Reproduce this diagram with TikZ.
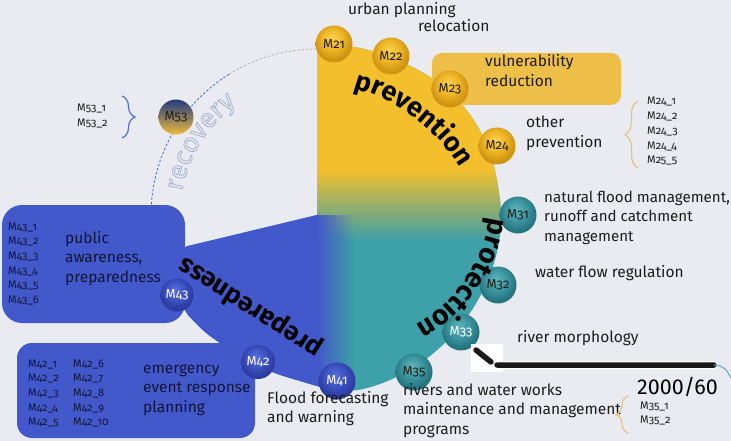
\documentclass[tikz,border=0pt]{standalone}
\usepackage{fontspec}
\setmainfont{Fira Sans}[Numbers=OldStyle]
\newfontfamily\linfont{Fira Sans}[Numbers=Lining]
\usetikzlibrary{decorations.text,decorations.pathreplacing,fadings}

\definecolor{bgc}{RGB}{233,235,240}
\definecolor{yel}{RGB}{244,191,44}
\definecolor{tea}{RGB}{62,160,168}
\definecolor{blu}{RGB}{67,88,203}
\definecolor{vbox}{RGB}{237,190,72}
\definecolor{bracetan}{RGB}{226,196,130}
\definecolor{braceblu}{RGB}{80,110,205}
\definecolor{txt}{RGB}{28,28,28}
\definecolor{navytxt}{RGB}{18,22,55}
\definecolor{balltxt}{RGB}{35,30,20}
\definecolor{recout}{RGB}{160,172,202}
\definecolor{recgray}{RGB}{185,180,168}
\definecolor{recblue}{RGB}{80,108,200}
\definecolor{yelL}{RGB}{250,208,80}
\definecolor{yelM}{RGB}{238,182,38}
\definecolor{yelD}{RGB}{208,148,18}
\definecolor{teaL}{RGB}{95,180,188}
\definecolor{teaM}{RGB}{60,150,160}
\definecolor{teaD}{RGB}{38,118,130}
\definecolor{bluL}{RGB}{88,110,218}
\definecolor{bluM}{RGB}{62,82,196}
\definecolor{bluD}{RGB}{44,60,160}
\definecolor{mtop}{RGB}{35,58,130}
\definecolor{mbot}{RGB}{236,186,60}

\pgfdeclareradialshading{ballY}{\pgfpoint{-3bp}{9bp}}{color(0bp)=(yelL); color(14bp)=(yelM); color(25bp)=(yelD); color(50bp)=(yelD)}
\pgfdeclareradialshading{ballT}{\pgfpoint{-3bp}{9bp}}{color(0bp)=(teaL); color(14bp)=(teaM); color(25bp)=(teaD); color(50bp)=(teaD)}
\pgfdeclareradialshading{ballB}{\pgfpoint{-3bp}{9bp}}{color(0bp)=(bluL); color(14bp)=(bluM); color(25bp)=(bluD); color(50bp)=(bluD)}

\tikzfading[name=fadeR, left color=transparent!0, right color=transparent!100]
\tikzfading[name=fadeD, top color=transparent!0, bottom color=transparent!100]

\newcommand\lns[1]{\begin{tabular}[t]{@{}l@{}}#1\end{tabular}}
\newcommand\blobpath{(317,215) -- (317,50) -- plot[smooth, tension=0.55] coordinates {(317,50) (353,47) (390,57) (425,74) (455,97) (478,127) (493,163) (500,200) (501,225) (497,252) (488,280) (472,310) (450,338) (422,362) (390,380) (358,390) (330,389) (300,381) (272,372) (248,360) (226,347) (205,332) (188,315)} -- (178,300) -- (178,250) -- (188,246) -- cycle}

\begin{document}
\begin{tikzpicture}[x=1pt,y=-1pt,
  mball/.style={circle, minimum size=37pt, inner sep=0pt, font=\fontsize{13}{13}\selectfont},
  yb/.style={mball, shading=ballY, text=balltxt},
  tb/.style={mball, shading=ballT, text=balltxt},
  bb/.style={mball, shading=ballB, text=white},
  lbl/.style={inner sep=0pt, anchor=base west, text=txt, font=\fontsize{15.5}{19.5}\selectfont},
  nlbl/.style={lbl, text=navytxt},
  sml/.style={inner sep=0pt, anchor=base west, text=txt, font=\fontsize{11}{14.7}\selectfont},
  nsml/.style={sml, text=navytxt},
  bracedeco/.style={decorate, line width=1.2pt, decoration={brace, amplitude=#1}},
  dashrec/.style={line width=0.8pt, dash pattern=on 2.5pt off 1.8pt}
]
\useasboundingbox (0,0) rectangle (731,441);
\fill[bgc] (0,0) rectangle (731,441);

% recovery arc
\draw[recgray, dashrec] plot[domain=90:122, samples=30] ({317+166*cos(\x)},{215-166*sin(\x)});
\draw[recblue, dashrec] plot[domain=122:180, samples=40] ({317+166*cos(\x)},{215-166*sin(\x)});

% blue boxes
\fill[blu, rounded corners=20pt] (2,205) rectangle (185,323);
\fill[blu, rounded corners=15pt] (17,343) rectangle (255,438);

% main blob
\begin{scope}
\clip \blobpath;
\fill[tea] (150,30) rectangle (520,400);
\fill[yel] (317,30) rectangle (520,170);
\fill[yel, path fading=fadeD] (317,169) rectangle (520,240);
\fill[blu] (150,200) rectangle (317.3,400);
\fill[blu, path fading=fadeR] (317,215) rectangle (354,400);
\end{scope}

% vulnerability box
\fill[vbox, rounded corners=10pt] (432,53) rectangle (621,105);

% balls
\node[yb] (m21) at (334,44) {M21};
\node[yb] (m22) at (391,56) {M22};
\node[yb] (m23) at (450,89) {M23};
\node[yb] (m24) at (497,146) {M24};
\node[tb] (m31) at (518,215) {M31};
\node[tb] (m32) at (498,285) {M32};
\node[tb, text=white] (m33) at (461,332) {M33};
\node[tb] (m35) at (414,372) {M35};
\node[bb] (m41) at (337,381) {M41};
\node[bb, minimum size=34pt] (m42) at (258,362) {M42};
\node[bb, minimum size=33pt] (m43) at (177,295) {M43};
\node[mball, top color=mtop, bottom color=mbot, text=balltxt, minimum size=35pt] (m53) at (176,117) {M53};

% curved titles
\path[decorate, decoration={text along path, text align=center, text color=black,
  text={|\fontsize{27}{27}\selectfont\bfseries|prevention}}]
  plot[domain=98:8, samples=80] ({309.5+174.5*cos(\x)},{257-174.5*sin(\x)});
\path[decorate, decoration={text along path, text align=center, text color=black,
  text={|\fontsize{28}{28}\selectfont\bfseries|protection}}]
  plot[domain=13:-82, samples=80] ({347+143.5*cos(\x)},{199-143.5*sin(\x)});
\path[decorate, decoration={text along path, text align=center, text color=black,
  text={|\fontsize{26}{26}\selectfont\bfseries|preparedness}}]
  (347,360.7) -- (161.5,241.5);

% labels prevention
\node[lbl] (urb) at (348,15) {urban planning};
\node[lbl] (rel) at (418,32) {relocation};
\node[lbl] (vul) at (485,67) {\lns{vulnerability\\reduction}};
\node[lbl] (oth) at (526,128) {\lns{other\\prevention}};
\node[sml] (l24) at (647,105) {\lns{M24\_1\\M24\_2\\M24\_3\\M24\_4\\M25\_5}};
\draw[bracetan, bracedeco=13pt] (638,168) -- (638,101);

% labels protection
\node[lbl, font=\fontsize{15.1}{19.5}\selectfont] (nfm) at (544,202) {\lns{natural flood management,\\runoff and catchment\\management}};
\node[lbl] (wfr) at (535,277) {water flow regulation};
\node[lbl] (rmo) at (517,342) {river morphology};
\node[lbl] (rww) at (403,395) {\lns{rivers and water works\\maintenance and management\\programs}};
\node[sml] (l35) at (640,409) {\lns{M35\_1\\M35\_2}};
\draw[bracetan, bracedeco=12pt] (628,433) -- (628,396);

% bar 2000/60
\coordinate (bs1) at (476,350);
\coordinate (bs2) at (491,362);
\coordinate (bl1) at (497,365);
\coordinate (bl2) at (714,365);
\coordinate (tc) at (731,378);
\fill[white] (471,344) rectangle (503,372);
\draw[white, line width=8.5pt, line cap=round] (bs1) -- (bs2) (bl1) -- (bl2);
\draw[black!90, line width=5.5pt, line cap=round] (bs1) -- (bs2) (bl1) -- (bl2);
\draw[tea!80!white, line width=1.2pt] (bl2) .. controls (723,365) and (727,370) .. (tc);
\node[inner sep=0pt, anchor=base west, text=black, font=\linfont\fontsize{21.5}{21.5}\selectfont] (yr) at (637,394) {2000/60};

% labels preparedness
\node[lbl] (ffw) at (267,403) {\lns{Flood forecasting\\and warning}};
\node[nlbl] (paw) at (65,243) {\lns{public\\awareness,\\preparedness}};
\node[nsml] (l43) at (8,230) {\lns{M43\_1\\M43\_2\\M43\_3\\M43\_4\\M43\_5\\M43\_6}};
\node[nsml] (l42a) at (28,367) {\lns{M42\_1\\M42\_2\\M42\_3\\M42\_4\\M42\_5}};
\node[nsml] (l42b) at (73,367) {\lns{M42\_6\\M42\_7\\M42\_8\\M42\_9\\M42\_10}};
\node[nlbl] (erp) at (143,373) {\lns{emergency\\event response\\planning}};

% recovery labels
\node[sml] (l53) at (77,112) {\lns{M53\_1\\M53\_2}};
\draw[braceblu, bracedeco=13pt] (122,96) -- (122,138);

% recovery outlined text
\path[decorate, decoration={text along path, text align=center,
  text={|\fontsize{27}{27}\selectfont\color{recout}\special{pdf:code 1 Tr 0.7 w}|recovery}}]
  plot[domain=194:102, samples=80] ({317+137*cos(\x)},{215-137*sin(\x)});
\end{tikzpicture}
\end{document}
